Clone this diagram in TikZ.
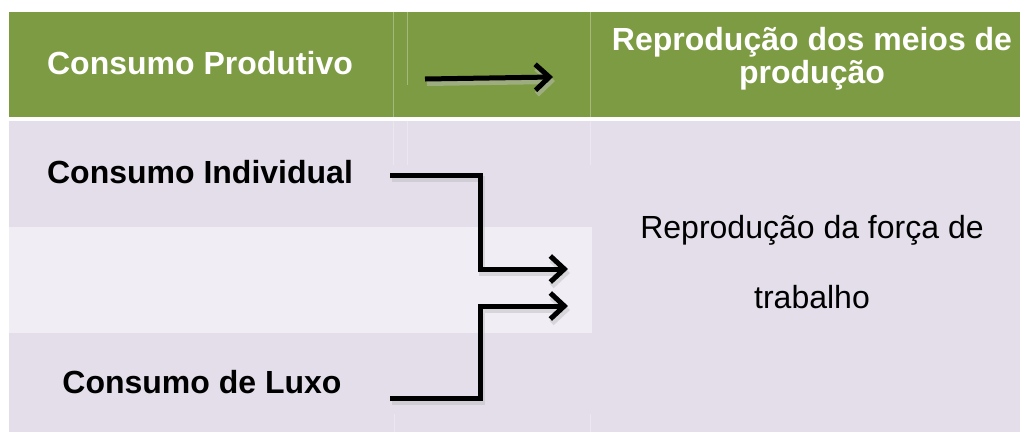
\documentclass[tikz,border=0pt]{standalone}
\usepackage{fontspec}
\setmainfont{Liberation Sans}
\usetikzlibrary{arrows.meta}
\definecolor{hdr}{RGB}{125,155,66}
\definecolor{lav}{RGB}{227,222,234}
\definecolor{lavlt}{RGB}{240,237,245}
\begin{document}
\begin{tikzpicture}[x=1pt,y=-1pt,
  hd/.style={font=\fontsize{32}{33}\selectfont\bfseries, text=white, inner sep=0pt},
  bd/.style={font=\fontsize{32}{33}\selectfont\bfseries, text=black, inner sep=0pt},
  rg/.style={font=\fontsize{32}{70}\selectfont, text=black, inner sep=0pt, align=center},
  conn/.style={line width=5pt, black, -{Straight Barb[length=14pt,width=26pt]}},
  connshadow/.style={line width=6pt, black!25, opacity=0.5, -{Straight Barb[length=14pt,width=26pt]}},
  faint/.style={white, opacity=0.3, line width=0.8pt}]
\useasboundingbox (0,0) rectangle (1020,432);
\fill[white] (0,0) rectangle (1020,432);
% table
\fill[hdr] (9,12) rectangle (1020,117);
\fill[lav] (9,121) rectangle (1020,432);
\fill[lavlt] (9,227) rectangle (592,333);
% faint cell borders
\draw[faint] (393,12) -- (393,117);
\draw[faint] (407,12) -- (407,85);
\draw[faint] (590,12) -- (590,117);
\draw[faint] (393,121) -- (393,165);
\draw[faint] (407,121) -- (407,165);
\draw[faint] (590,121) -- (590,165);
\draw[faint] (394,414) -- (394,432);
\draw[faint] (590,414) -- (590,432);
% texts
\node[hd, anchor=base] (cp) at (200,74) {Consumo Produtivo};
\node[hd, anchor=north, align=center] (rm) at (812,27) {Reprodução dos meios de\\produção};
\node[bd, anchor=base] (ci) at (200,183) {Consumo Individual};
\node[bd, anchor=base] (cl) at (202,393) {Consumo de Luxo};
\node[rg, anchor=north] (rf) at (812,215) {Reprodução da força de\\trabalho};
% connector points
\coordinate (h1) at (425,79);
\coordinate (h2) at (553,77);
\coordinate (s1) at (390,175);
\coordinate (k1) at (480,175);
\coordinate (e1) at (568,269);
\coordinate (s2) at (390,398);
\coordinate (k2) at (480,398);
\coordinate (e2) at (568,306);
% shadows
\draw[connshadow] ([shift={(2,4)}]h1) -- ([shift={(2,4)}]h2);
\draw[connshadow] ([shift={(2,4)}]s1) -- ([shift={(2,4)}]k1) |- ([shift={(2,4)}]e1);
\draw[connshadow] ([shift={(2,4)}]s2) -- ([shift={(2,4)}]k2) |- ([shift={(2,4)}]e2);
% connectors
\draw[conn] (h1) -- (h2);
\draw[conn] (s1) -- (k1) |- (e1);
\draw[conn] (s2) -- (k2) |- (e2);
\end{tikzpicture}
\end{document}
